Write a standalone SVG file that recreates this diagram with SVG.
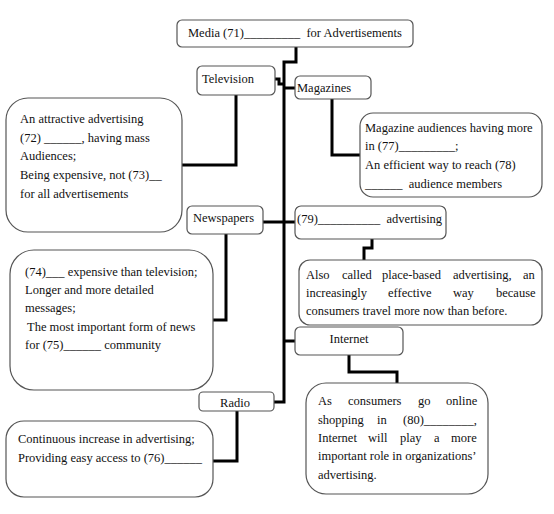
<svg xmlns="http://www.w3.org/2000/svg" width="554" height="514" viewBox="0 0 554 514">
<style>
.box{fill:#fff;stroke:#555;stroke-width:1.2}
.t{font-family:"Liberation Serif","Times New Roman",serif;font-size:12.5px;fill:#111}
.c{fill:none;stroke:#000;stroke-width:3;stroke-linejoin:miter}
</style>
<rect width="554" height="514" fill="#fff"/>
<g id="connectors">
<path class="c" d="M296 47 V62 H284 V402 H274"/>
<path class="c" d="M275 79 H279 V84 H284"/>
<path class="c" d="M284 88 H295"/>
<path class="c" d="M263 222 H295"/>
<path class="c" d="M284 341 H295"/>
<path class="c" d="M236 95 V165 H182"/>
<path class="c" d="M332 99 V155 H360"/>
<path class="c" d="M372 239 V248 H364 V260"/>
<path class="c" d="M226 234 V320 H213"/>
<path class="c" d="M349 355 V372 H397 V383"/>
<path class="c" d="M237 411 V461 H213"/>
</g>
<g id="title">
<rect class="box" x="177" y="20" width="236" height="27" rx="5"/>
<text class="t" x="188" y="37">Media (71)_________&#160; for Advertisements</text>
</g>
<g id="television">
<rect class="box" x="197" y="66" width="78" height="29" rx="5"/>
<text class="t" x="202" y="83">Television</text>
</g>
<g id="television-desc">
<rect class="box" x="6" y="98" width="176" height="134" rx="22"/>
<text class="t" x="20" y="123">An attractive advertising</text>
<text class="t" x="20" y="142">(72) ______, having mass</text>
<text class="t" x="20" y="160">Audiences;</text>
<text class="t" x="20" y="179">Being expensive, not (73)__</text>
<text class="t" x="20" y="198">for all advertisements</text>
</g>
<g id="magazines">
<rect class="box" x="295" y="76" width="76" height="23" rx="5"/>
<text class="t" x="297" y="92">Magazines</text>
</g>
<g id="magazines-desc">
<rect class="box" x="360" y="113" width="182" height="84" rx="13"/>
<text class="t" x="365" y="132">Magazine audiences having more</text>
<text class="t" x="365" y="150">in (77)_________;</text>
<text class="t" x="365" y="169">An efficient way to reach (78)</text>
<text class="t" x="365" y="188">______&#160; audience members</text>
</g>
<g id="newspapers">
<rect class="box" x="187" y="206" width="76" height="28" rx="5"/>
<text class="t" x="193" y="222">Newspapers</text>
</g>
<g id="newspapers-desc">
<rect class="box" x="10" y="250" width="203" height="140" rx="24"/>
<text class="t" x="25" y="276">(74)___ expensive than television;</text>
<text class="t" x="25" y="294">Longer and more detailed</text>
<text class="t" x="25" y="312">messages;</text>
<text class="t" x="27" y="331">The most important form of news</text>
<text class="t" x="25" y="349">for (75)______ community</text>
</g>
<g id="outdoor">
<rect class="box" x="295" y="206" width="151" height="33" rx="6"/>
<text class="t" x="297" y="223">(79)__________&#160; advertising</text>
</g>
<g id="outdoor-desc">
<rect class="box" x="299" y="260" width="243" height="65" rx="11"/>
<text class="t" y="279"><tspan x="306">Also</tspan><tspan x="342">called</tspan><tspan x="382">place-based</tspan><tspan x="453">advertising,</tspan><tspan x="523">an</tspan></text>
<text class="t" y="297"><tspan x="306">increasingly</tspan><tspan x="388">effective</tspan><tspan x="453">way</tspan><tspan x="496">because</tspan></text>
<text class="t" x="306" y="315">consumers travel more now than before.</text>
</g>
<g id="internet">
<rect class="box" x="295" y="327" width="108" height="28" rx="5"/>
<text class="t" x="349" y="343" text-anchor="middle">Internet</text>
</g>
<g id="internet-desc">
<rect class="box" x="306" y="383" width="182" height="111" rx="20"/>
<text class="t" y="405"><tspan x="318">As</tspan><tspan x="348">consumers</tspan><tspan x="418">go</tspan><tspan x="446">online</tspan></text>
<text class="t" y="424"><tspan x="318">shopping</tspan><tspan x="377">in</tspan><tspan x="403">(80)________,</tspan></text>
<text class="t" y="442"><tspan x="318">Internet</tspan><tspan x="368">will</tspan><tspan x="400">play</tspan><tspan x="434">a</tspan><tspan x="451">more</tspan></text>
<text class="t" x="318" y="460">important role in organizations’</text>
<text class="t" x="318" y="479">advertising.</text>
</g>
<g id="radio">
<rect class="box" x="199" y="392" width="75" height="19" rx="4"/>
<text class="t" x="235" y="407" text-anchor="middle">Radio</text>
</g>
<g id="radio-desc">
<rect class="box" x="6" y="421" width="207" height="76" rx="18"/>
<text class="t" x="18" y="443">Continuous increase in advertising;</text>
<text class="t" x="18" y="462">Providing easy access to (76)______</text>
</g>
</svg>
